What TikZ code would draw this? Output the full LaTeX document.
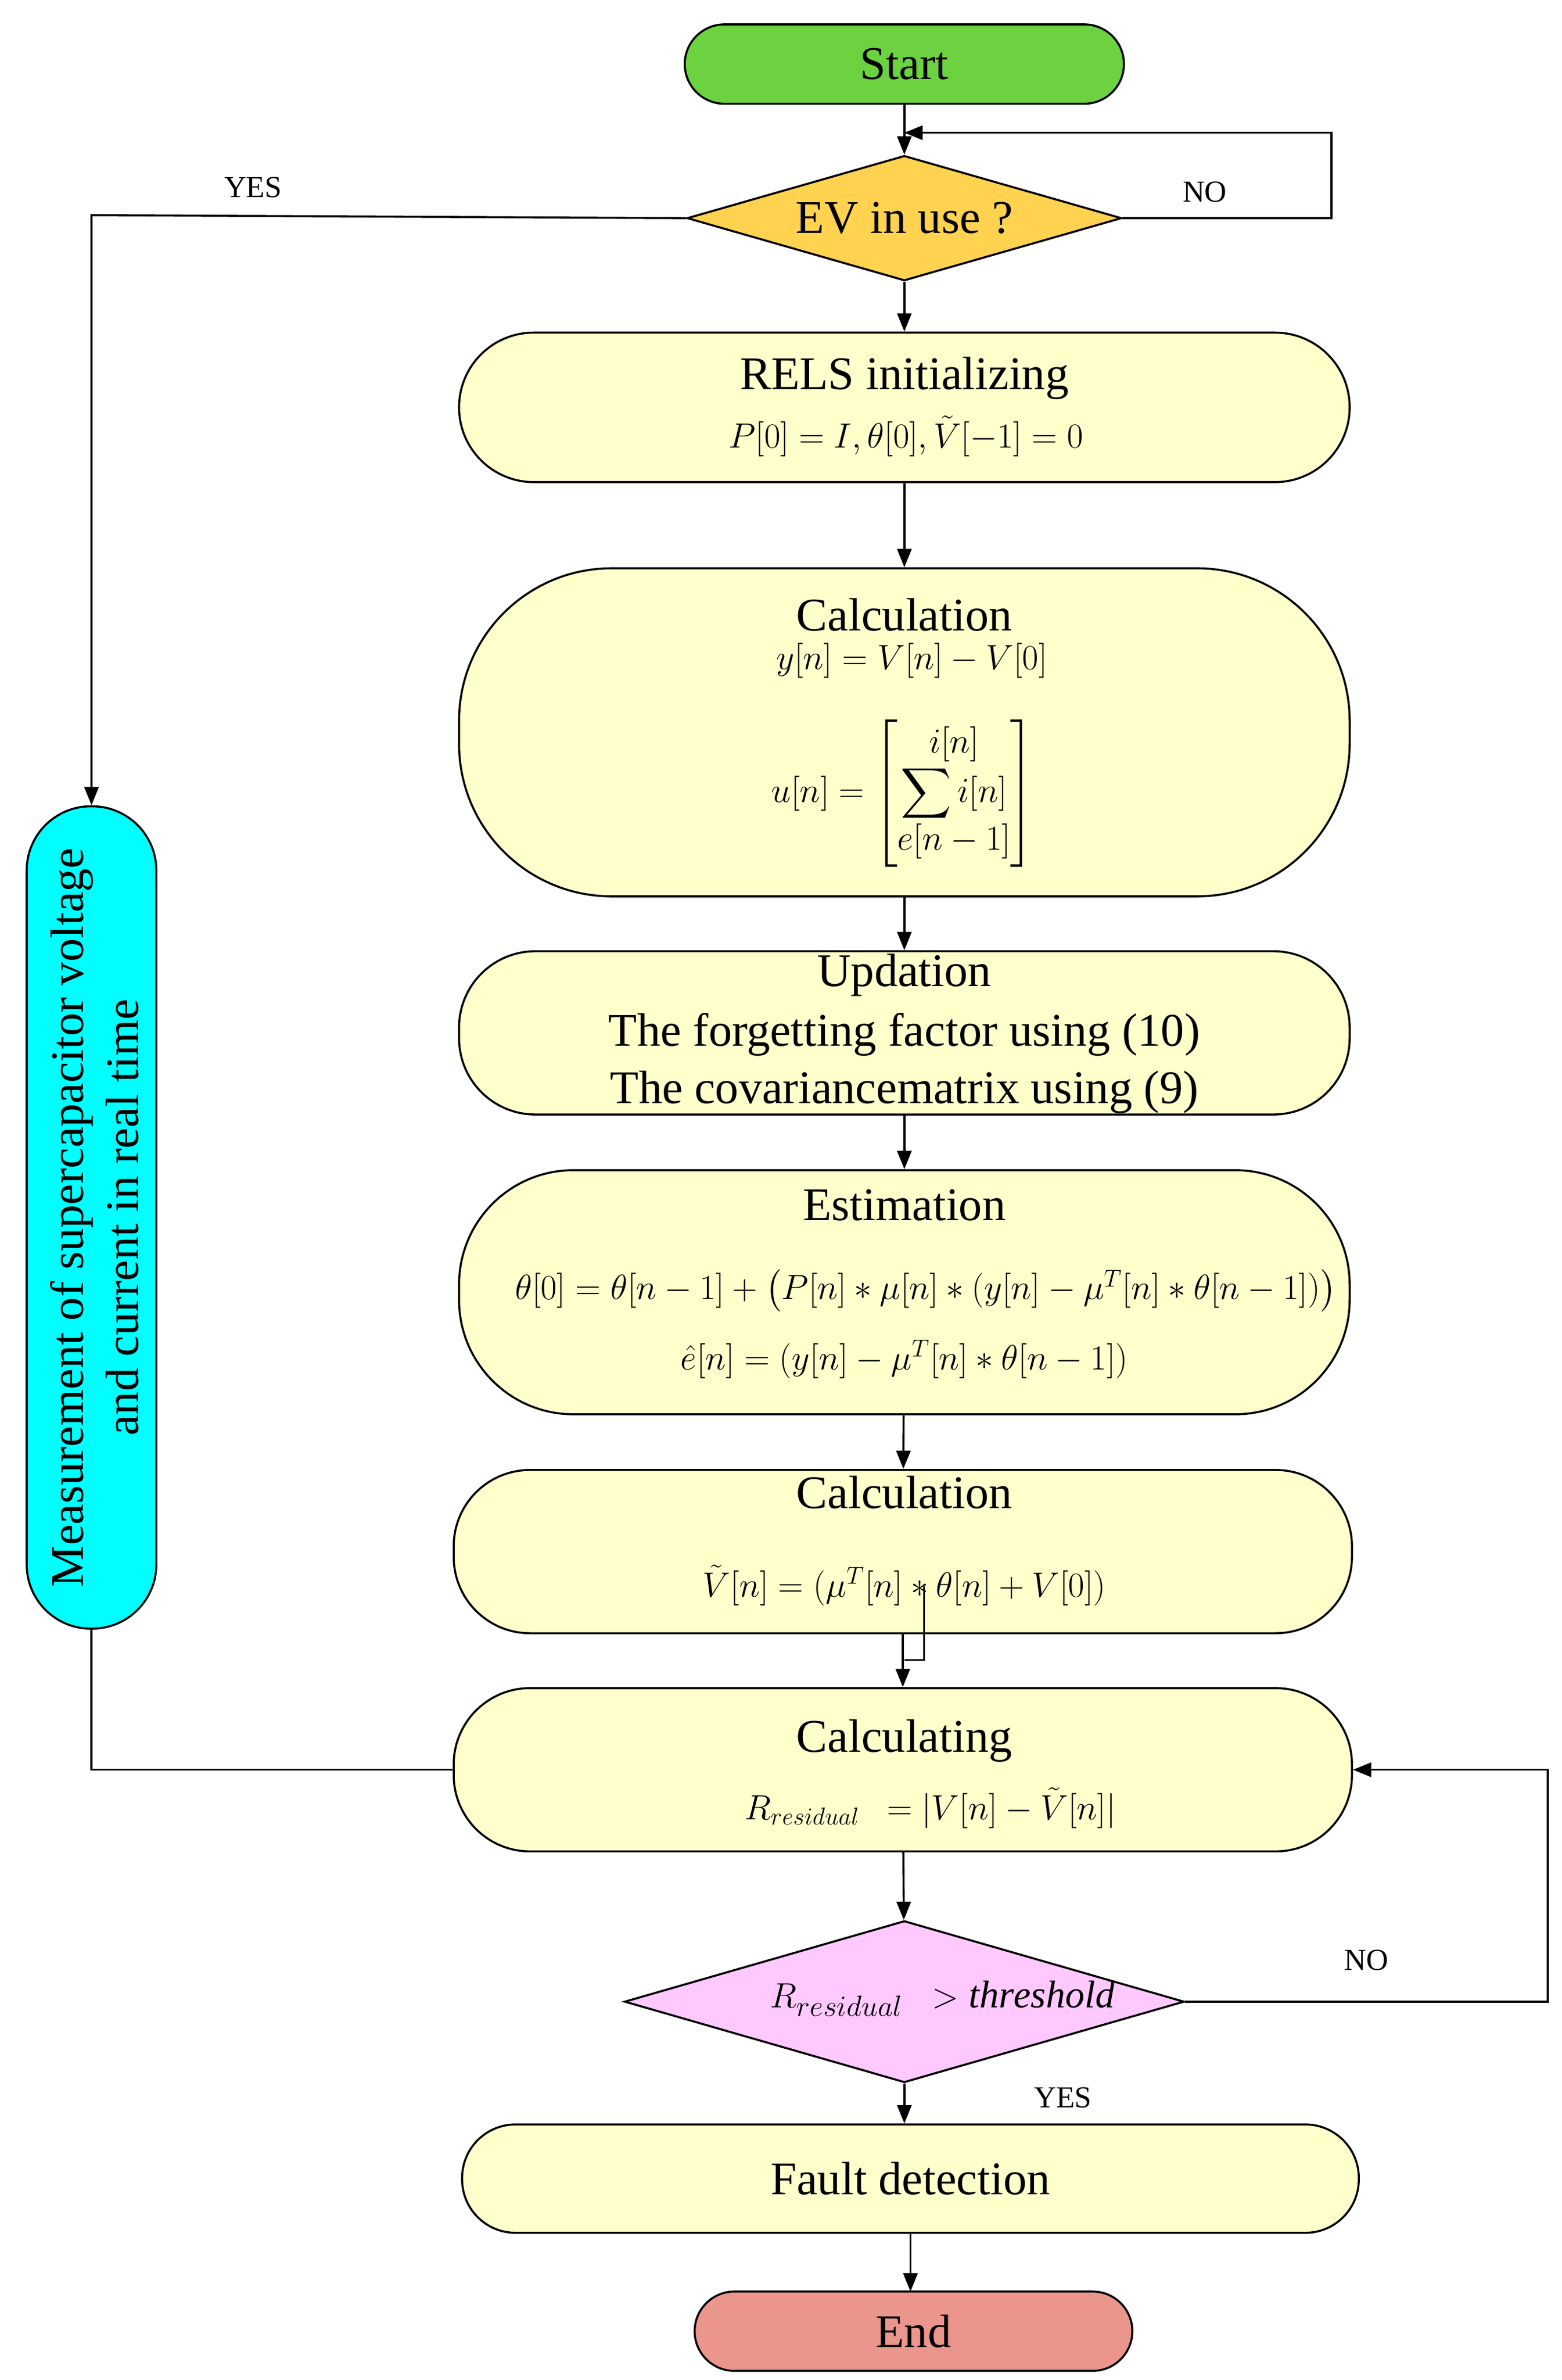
\documentclass[tikz,border=0pt]{standalone}
\usepackage{amsmath}
\usepackage{fontspec}
\setmainfont{Liberation Serif}
\usetikzlibrary{shapes.geometric,arrows.meta}
\definecolor{ly}{RGB}{255,255,204}
\definecolor{gr}{RGB}{108,210,64}
\definecolor{og}{RGB}{255,210,80}
\definecolor{pk}{RGB}{255,200,255}
\definecolor{ed}{RGB}{235,150,140}
\definecolor{cy}{RGB}{0,255,255}
\begin{document}
\begin{tikzpicture}[x=0.75pt,y=-0.75pt,
  box/.style={draw,line width=1pt,fill=ly,align=center,inner sep=0pt},
  dia/.style={draw,line width=1pt,diamond,aspect=2.8,inner sep=0pt},
  ln/.style={line width=1pt},
  ar/.style={line width=1pt,-{Triangle[length=9pt,width=7pt]}},
  big/.style={font=\fontsize{23}{27}\selectfont},
  sm/.style={font=\fontsize{17}{20}\selectfont}]
\useasboundingbox (0,0) rectangle (1024,1560);
\node[box,fill=gr,minimum width=288*0.75pt,minimum height=52*0.75pt,rounded corners=26*0.75pt,big] (start) at (593,42) {Start};
\node[dia,fill=og,minimum width=285*0.75pt,minimum height=82*0.75pt,big] (ev) at (593,143) {EV in use ?};
\node[box,minimum width=584*0.75pt,minimum height=98*0.75pt,rounded corners=49*0.75pt] (rels) at (593,267) {};
\node[big] at (593,248) {RELS initializing};
\node[sm] at (594,286) {$P[0]=I,\theta[0],\tilde{V}[-1]=0$};
\node[box,minimum width=584*0.75pt,minimum height=215*0.75pt,rounded corners=100*0.75pt] (calc) at (593,480) {};
\node[big] at (593,403) {Calculation};
\node[sm] at (598,433) {$y[n]=V[n]-V[0]$};
\node[sm] at (592,520) {$u[n]=\begin{bmatrix} i[n]\\ \displaystyle\sum i[n]\\ e[n-1]\end{bmatrix}$};
\node[box,minimum width=584*0.75pt,minimum height=107*0.75pt,rounded corners=50*0.75pt] (upd) at (593,677) {};
\node[big] at (593,639) {Updation};
\node[big] at (593,678) {The forgetting factor using (10)};
\node[big] at (593,716) {The covariancematrix using (9)};
\node[box,minimum width=584*0.75pt,minimum height=160*0.75pt,rounded corners=75*0.75pt] (est) at (593,847) {};
\node[big] at (593,790) {Estimation};
\node[sm] at (607,846) {$\theta[0]=\theta[n-1]+\bigl(P[n]*\mu[n]*(y[n]-\mu^{T}[n]*\theta[n-1])\bigr)$};
\node[sm] at (593,891) {$\hat{e}[n]=(y[n]-\mu^{T}[n]*\theta[n-1])$};
\node[box,minimum width=589*0.75pt,minimum height=107*0.75pt,rounded corners=50*0.75pt] (calc2) at (592,1017) {};
\node[big] at (593,978) {Calculation};
\node[sm] at (593,1039) {$\tilde{V}[n]=(\mu^{T}[n]*\theta[n]+V[0])$};
\node[box,minimum width=589*0.75pt,minimum height=107*0.75pt,rounded corners=50*0.75pt] (calcg) at (592,1160) {};
\node[big] at (593,1141) {Calculating};
\node[sm] at (610,1185) {$R_{residual}\ \ =|V[n]-\tilde{V}[n]|$};
\node[dia,fill=pk,minimum width=367*0.75pt,minimum height=106*0.75pt] (th) at (593,1312) {};
\node[font=\fontsize{19}{22}\selectfont] at (618,1310) {$R_{residual}\ \ >\mathit{threshold}$};
\node[box,minimum width=588*0.75pt,minimum height=71*0.75pt,rounded corners=35*0.75pt,big] (fault) at (597,1428) {Fault detection};
\node[box,fill=ed,minimum width=287*0.75pt,minimum height=52*0.75pt,rounded corners=26*0.75pt,big] (end) at (599,1528) {End};
\node[box,fill=cy,minimum width=85*0.75pt,minimum height=539*0.75pt,rounded corners=42*0.75pt] (meas) at (60,798) {};
\node[big,rotate=90,align=center] at (62,798) {Measurement of supercapacitor voltage\\and current in real time};
\node[font=\fontsize{15}{18}\selectfont] at (166,123) {YES};
\node[font=\fontsize{15}{18}\selectfont] at (790,126) {NO};
\node[font=\fontsize{15}{18}\selectfont] at (896,1285) {NO};
\node[font=\fontsize{15}{18}\selectfont] at (697,1375) {YES};
\coordinate (loop) at (593,87);
\draw[ar] (start) -- (ev);
\draw[ar] (ev.east) -- (873,143) -- (873,87) -- (loop);
\draw[ar] (ev.west) -- (60,141) -- (meas.north);
\draw[ar] (ev) -- (rels);
\draw[ar] (rels) -- (calc);
\draw[ar] (calc) -- (upd);
\draw[ar] (upd) -- (est);
\draw[ar] (est) -- (calc2);
\draw[ar] (calc2) -- (calcg);
\draw[ln] (606,1040) -- (606,1088) -- (593,1088);
\draw[ln] (meas.south) -- (60,1160) -- (calcg.west);
\draw[ar] (calcg) -- (th);
\draw[ar] (th.east) -- (1015,1312) -- (1015,1160) -- (calcg.east);
\draw[ar] (th.south) -- (th.south|-fault.north);
\draw[ar] (fault.south-|597,0) -- (597,1502);
\end{tikzpicture}
\end{document}
